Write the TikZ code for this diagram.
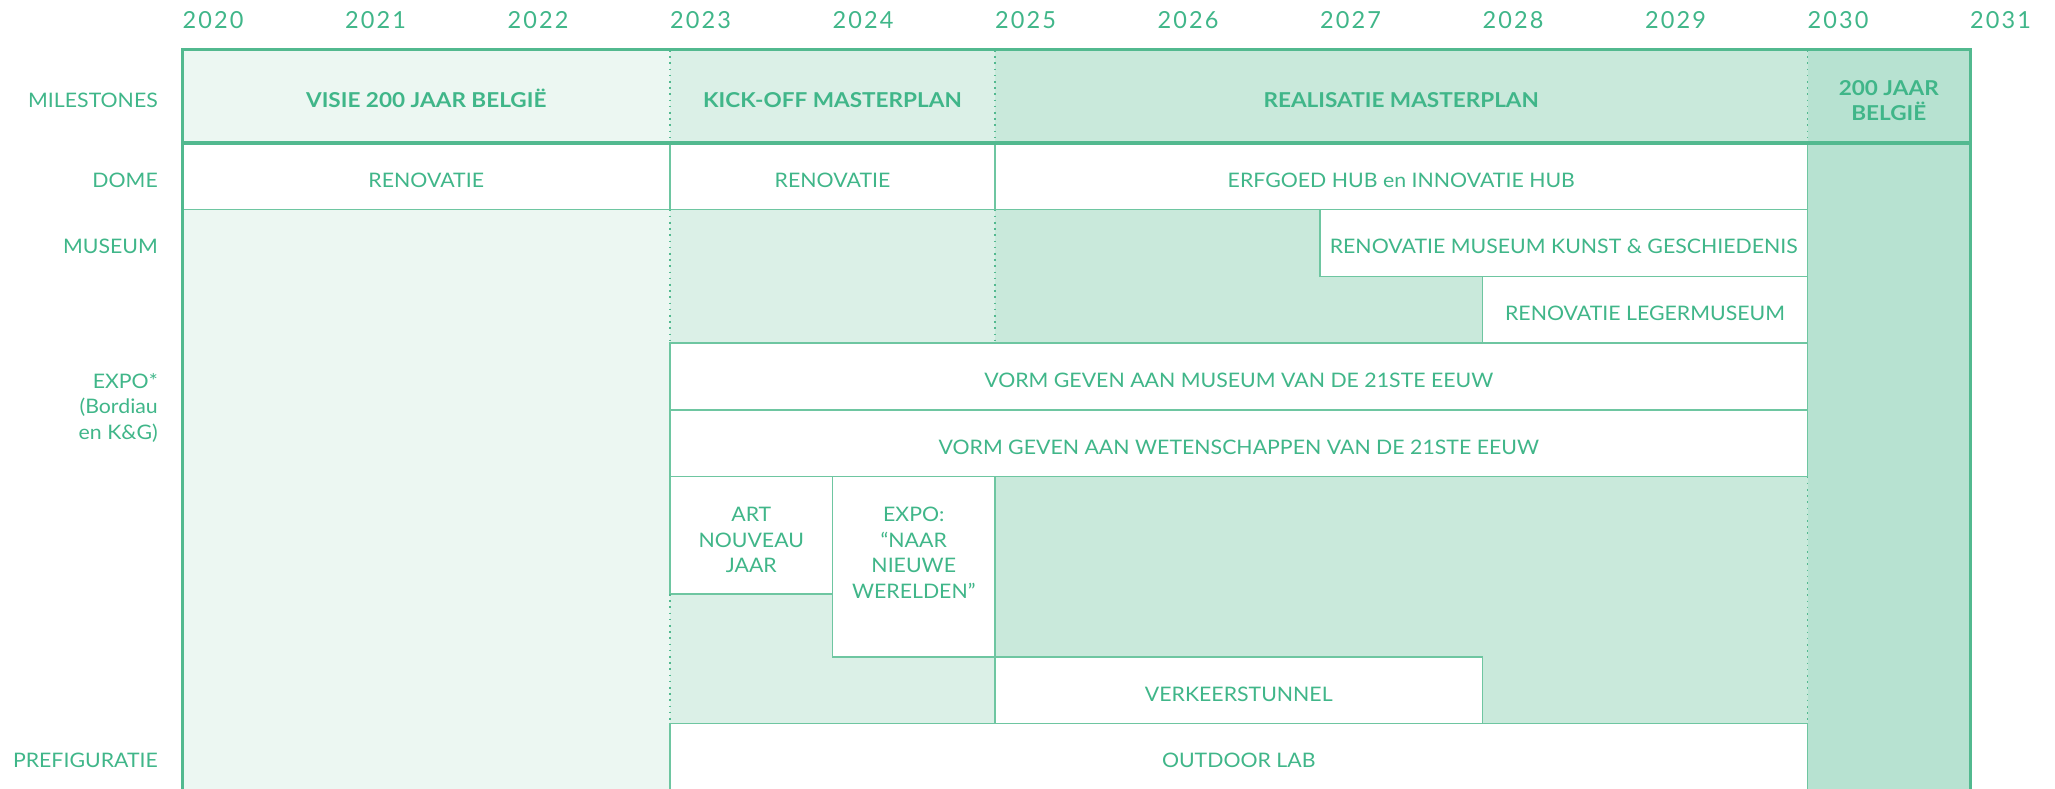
\documentclass[tikz,border=0pt]{standalone}
\usepackage{fontspec}
\setmainfont{Lato}
\newfontfamily\regfont[FakeStretch=1.065]{Lato}
\newfontfamily\boldfont[FakeStretch=1.1]{Lato Bold}
\definecolor{txt}{RGB}{64,182,137}
\definecolor{frame}{RGB}{82,185,143}
\definecolor{thin}{RGB}{110,198,161}
\definecolor{bga}{RGB}{236,247,242}
\definecolor{bgb}{RGB}{219,240,231}
\definecolor{bgc}{RGB}{201,233,219}
\definecolor{bgd}{RGB}{183,226,209}
\tikzset{
  reg/.style={text=txt,inner sep=0pt,font=\regfont\fontsize{20}{25.5}\selectfont},
  boldtxt/.style={text=txt,inner sep=0pt,font=\boldfont\fontsize{20.5}{25}\selectfont},
  yearlbl/.style={text=txt,inner sep=0pt,anchor=base west,font=\fontsize{23.5}{28}\selectfont\addfontfeature{LetterSpace=9}},
  rowlbl/.style={reg,anchor=base east},
  boxline/.style={draw=thin,line width=1.5pt,fill=white},
  dotline/.style={draw=frame,line width=1.6pt,dash pattern=on 1.6pt off 4.6pt},
  framelin/.style={draw=frame,line width=3pt}
}
\begin{document}
\begin{tikzpicture}[x=1pt,y=-1pt]
\useasboundingbox (0,0) rectangle (2055,789);
% column x positions
\def\xa{182.5}\def\xb{345}\def\xc{507.5}\def\xd{670}\def\xe{832.5}\def\xf{995}
\def\xg{1157.5}\def\xh{1320}\def\xi{1482.5}\def\xj{1645}\def\xk{1807.5}\def\xl{1970}
% row y positions
\def\ra{50}\def\rb{143}\def\rc{209.5}\def\rd{276.5}\def\re{343}\def\rf{410}\def\rg{476.5}
\def\rart{594}\def\rexp{657}\def\rh{723.5}\def\ri{800}
% backgrounds
\fill[bga] (\xa,\ra) rectangle (\xd,\ri);
\fill[bgb] (\xd,\ra) rectangle (\xf,\rh);
\fill[bgc] (\xf,\ra) rectangle (\xk,\rh);
\fill[bgd] (\xk,\ra) rectangle (\xl,\ri);
% year labels
\foreach \yr/\xx in {2020/\xa,2021/\xb,2022/\xc,2023/\xd,2024/\xe,2025/\xf,2026/\xg,2027/\xh,2028/\xi,2029/\xj,2030/\xk,2031/\xl}
  \node[yearlbl] (y\yr) at (\xx,28.5) {\yr};
% row labels
\node[rowlbl] (lmil) at (158,107.5) {MILESTONES};
\node[rowlbl] (ldome) at (158,187) {DOME};
\node[rowlbl] (lmus) at (158,253.5) {MUSEUM};
\node[reg,anchor=north east,align=right] (lexpo) at (158,373) {EXPO*\\(Bordiau\\en K\&G)};
\node[rowlbl] (lpre) at (158,767) {PREFIGURATIE};
% milestones
\node[boldtxt,anchor=base] (m1) at ({(\xa+\xd)/2},107.5) {VISIE 200 JAAR BELGIË};
\node[boldtxt,anchor=base] (m2) at ({(\xd+\xf)/2},107.5) {KICK-OFF MASTERPLAN};
\node[boldtxt,anchor=base] (m3) at ({(\xf+\xk)/2},107.5) {REALISATIE MASTERPLAN};
\node[boldtxt,anchor=north,align=center] (m4) at ({(\xk+\xl)/2},80.5) {200 JAAR\\BELGIË};
% white boxes
\path[boxline] (\xa,\rb) rectangle (\xd,\rc);
\path[boxline] (\xd,\rb) rectangle (\xf,\rc);
\path[boxline] (\xf,\rb) rectangle (\xk,\rc);
\path[boxline] (\xh,\rc) rectangle (\xk,\rd);
\path[boxline] (\xi,\rd) rectangle (\xk,\re);
\path[boxline] (\xd,\re) rectangle (\xk,\rf);
\path[boxline] (\xd,\rf) rectangle (\xk,\rg);
\path[boxline] (\xd,\rg) rectangle (\xe,\rart);
\path[boxline] (\xe,\rg) rectangle (\xf,\rexp);
\path[boxline] (\xf,\rexp) rectangle (\xi,\rh);
\path[boxline] (\xd,\rh) rectangle (\xk,\ri);
% box texts
\node[reg,anchor=base] (d1) at ({(\xa+\xd)/2},187) {RENOVATIE};
\node[reg,anchor=base] (d2) at ({(\xd+\xf)/2},187) {RENOVATIE};
\node[reg,anchor=base] (d3) at ({(\xf+\xk)/2},187) {ERFGOED HUB en INNOVATIE HUB};
\node[reg,anchor=base] (mu1) at ({(\xh+\xk)/2},253.5) {RENOVATIE MUSEUM KUNST \& GESCHIEDENIS};
\node[reg,anchor=base] (mu2) at ({(\xi+\xk)/2},320.5) {RENOVATIE LEGERMUSEUM};
\node[reg,anchor=base] (e1) at ({(\xd+\xk)/2},387.5) {VORM GEVEN AAN MUSEUM VAN DE 21STE EEUW};
\node[reg,anchor=base] (e2) at ({(\xd+\xk)/2},454) {VORM GEVEN AAN WETENSCHAPPEN VAN DE 21STE EEUW};
\node[reg,anchor=north,align=center] (art) at ({(\xd+\xe)/2},507) {ART\\NOUVEAU\\JAAR};
\node[reg,anchor=north,align=center] (nw) at ({(\xe+\xf)/2},507) {EXPO:\\“NAAR\\NIEUWE\\WERELDEN”};
\node[reg,anchor=base] (tun) at ({(\xf+\xi)/2},701) {VERKEERSTUNNEL};
\node[reg,anchor=base] (out) at ({(\xd+\xk)/2},767) {OUTDOOR LAB};
% dotted boundaries
\path[dotline] (\xd,\ra) -- (\xd,\rb);
\path[dotline] (\xf,\ra) -- (\xf,\rb);
\path[dotline] (\xk,\ra) -- (\xk,\rb);
\path[dotline] (\xd,\rc) -- (\xd,\re);
\path[dotline] (\xf,\rc) -- (\xf,\re);
\path[dotline] (\xd,\rart) -- (\xd,\rh);
\path[dotline] (\xk,\rg) -- (\xk,\rh);
% frame
\path[framelin] (\xa,\ri) -- (\xa,\ra) -- (\xl,\ra) -- (\xl,\ri);
\path[framelin] (\xa,\rb) -- (\xl,\rb);
\end{tikzpicture}
\end{document}
